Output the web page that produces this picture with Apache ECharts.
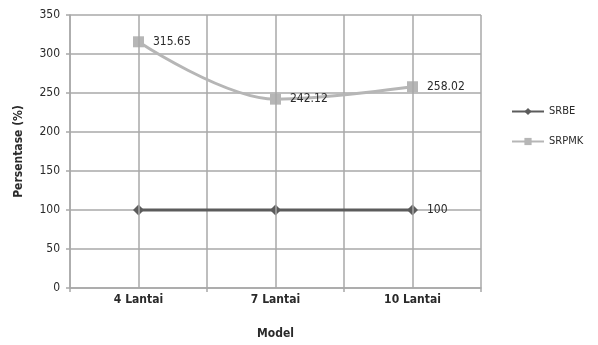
<!DOCTYPE html>
<html>
<head>
<meta charset="utf-8">
<script src="https://cdn.jsdelivr.net/npm/echarts@6/dist/echarts.min.js"></script>
<style>
  html, body { margin: 0; padding: 0; background: #fff; }
  #chart { width: 598px; height: 345px; }
</style>
</head>
<body>
<div id="chart"></div>
<script>
// Building models and the two ratio series (percent)
const categories = ['4 Lantai', '7 Lantai', '10 Lantai'];
const srbe = [100, 100, 100];
const srpmk = [315.65, 242.12, 258.02];
const seriesNames = ['SRBE', 'SRPMK'];

const FONT = '"Liberation Sans Narrow", "DejaVu Sans Condensed", "Liberation Sans", sans-serif';
const GRID = '#a8a8a8';
const TEXT = '#2a2a2a';

const chart = echarts.init(document.getElementById('chart'), null, { renderer: 'canvas' });

const valueLabel = {
  show: true,
  position: 'right',
  distance: 9,
  color: TEXT,
  fontFamily: FONT,
  fontSize: 12
};

chart.setOption({
  animation: false,
  backgroundColor: '#ffffff',
  grid: { left: 70, right: 117, top: 15, bottom: 54 },
  legend: {
    orient: 'vertical',
    left: 506,
    top: 101,
    itemGap: 19,
    itemWidth: 32,
    itemHeight: 9,
    textStyle: { fontFamily: FONT, fontSize: 11, color: TEXT },
    data: seriesNames
  },
  xAxis: [{
    type: 'category',
    data: categories,
    boundaryGap: true,
    name: 'Model',
    nameLocation: 'middle',
    nameGap: 40,
    nameTextStyle: { fontFamily: FONT, fontSize: 12, fontWeight: 'bold', color: TEXT },
    axisLine: { lineStyle: { color: GRID, width: 1.5 } },
    axisTick: { show: true, length: 4, lineStyle: { color: GRID, width: 1.5 } },
    axisLabel: { fontFamily: FONT, fontSize: 12, fontWeight: 'bold', color: TEXT, margin: 6 },
    splitLine: { show: true, lineStyle: { color: GRID, width: 1.5 } }
  }],
  yAxis: {
    type: 'value',
    min: 0,
    max: 350,
    interval: 50,
    name: 'Persentase (%)',
    nameLocation: 'middle',
    nameGap: 45,
    nameTextStyle: { fontFamily: FONT, fontSize: 12, fontWeight: 'bold', color: TEXT },
    axisLine: { show: true, lineStyle: { color: GRID, width: 1.5 } },
    axisTick: { show: true, length: 4, lineStyle: { color: GRID, width: 1.5 } },
    axisLabel: { fontFamily: FONT, fontSize: 12, color: TEXT, margin: 10 },
    splitLine: { show: true, lineStyle: { color: GRID, width: 1.5 } }
  },
  series: [
    {
      name: seriesNames[0],
      type: 'line',
      data: srbe,
      symbol: 'diamond',
      symbolSize: 11,
      z: 3,
      lineStyle: { color: '#5c5c5c', width: 3 },
      itemStyle: { color: '#5c5c5c' },
      label: Object.assign({}, valueLabel, {
        formatter: p => (p.dataIndex === categories.length - 1 ? String(p.value) : '')
      }),
      // vertical guides through each model
      markLine: {
        silent: true,
        symbol: 'none',
        label: { show: false },
        lineStyle: { color: GRID, width: 1.5, type: 'solid' },
        data: categories.map(c => ({ xAxis: c }))
      }
    },
    {
      name: seriesNames[1],
      type: 'line',
      data: srpmk,
      smooth: 0.35,
      symbol: 'rect',
      symbolSize: 11,
      z: 4,
      lineStyle: { color: '#b6b6b6', width: 3 },
      itemStyle: { color: '#b6b6b6' },
      label: Object.assign({}, valueLabel, { formatter: p => p.value.toFixed(2) })
    }
  ]
});
</script>
</body>
</html>
